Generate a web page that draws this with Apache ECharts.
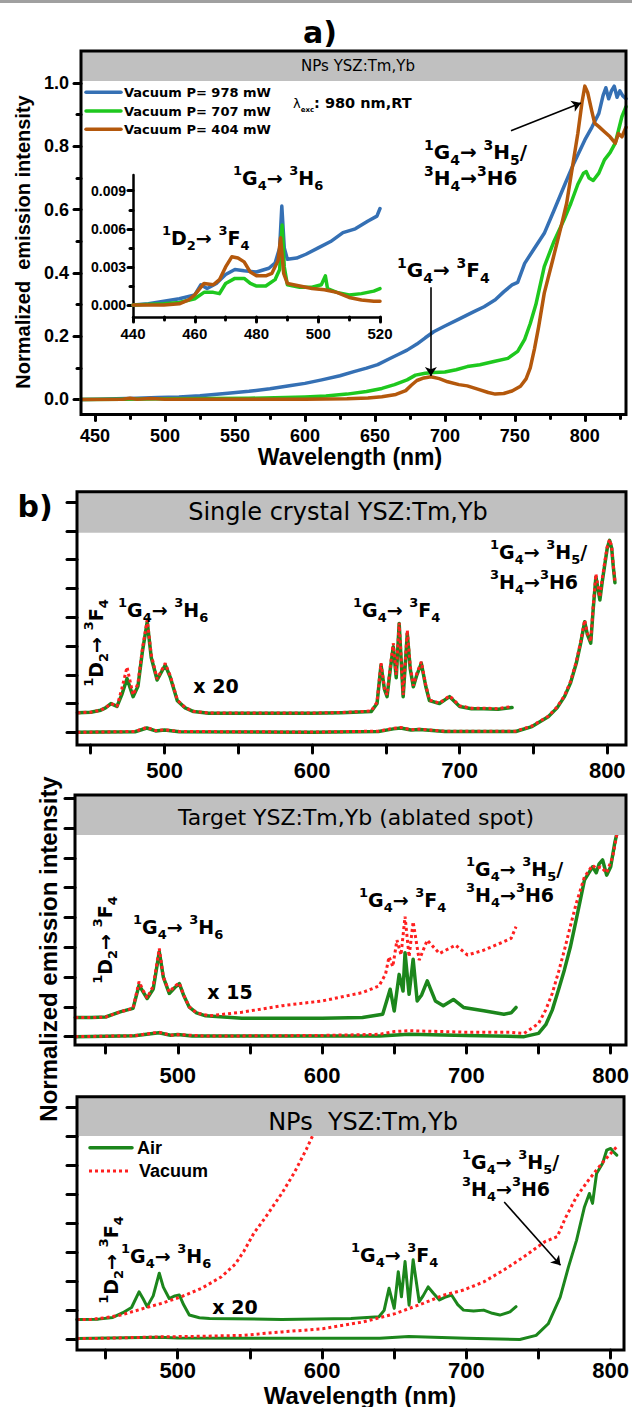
<!DOCTYPE html>
<html>
<head>
<meta charset="utf-8">
<script src="https://cdn.jsdelivr.net/npm/echarts@6/dist/echarts.min.js"></script>
<style>
html,body{margin:0;padding:0;background:#fff;}
#chart{width:632px;height:1407px;}
</style>
</head>
<body>
<div id="chart"></div>
<script>
// ---------------- data ----------------
// Panel a: NPs YSZ:Tm,Yb in vacuum, three pump powers (normalized emission)
const aWavelengthTicks = [450, 500, 550, 600, 650, 700, 750, 800];
const aWavelengthMinor = [475, 525, 575, 625, 675, 725, 775, 825];
const aIntensityTicks = [0, 0.2, 0.4, 0.6, 0.8, 1.0];
const aIntensityMinor = [0.1, 0.3, 0.5, 0.7, 0.9];

const vac978 = [[440,0.0],[452,0.001],[465,0.002],[480,0.004],[495,0.006],[510,0.008],[525,0.012],[545,0.02],[560,0.026],[575,0.034],[590,0.044],[600,0.051],[612,0.062],[625,0.075],[635,0.088],[644,0.099],[652,0.11],[660,0.128],[667,0.143],[673,0.156],[680,0.175],[686,0.195],[692,0.214],[700,0.232],[710,0.254],[720,0.276],[728,0.293],[736,0.315],[742,0.34],[748,0.362],[752,0.37],[757,0.43],[764,0.478],[771,0.525],[778,0.598],[785,0.672],[792,0.745],[800,0.82],[805,0.86],[810,0.904],[813,0.96],[815,0.985],[817,0.95],[819,0.975],[821,0.99],[823,0.955],[825,0.975],[827,0.96],[829.4,0.95]];
const vac707 = [[440,0.0],[470,0.001],[500,0.002],[530,0.003],[560,0.004],[586,0.006],[600,0.008],[615,0.011],[630,0.017],[644,0.025],[655,0.035],[664,0.047],[673,0.062],[679,0.077],[686,0.083],[692,0.085],[700,0.087],[708,0.094],[716,0.104],[725,0.11],[735,0.12],[745,0.13],[752,0.152],[757,0.19],[761,0.24],[765,0.3],[771,0.42],[778,0.5],[785,0.567],[790,0.62],[795,0.68],[799,0.715],[801,0.72],[803,0.7],[806,0.692],[810,0.715],[814,0.757],[818,0.78],[821.7,0.81],[824,0.85],[826.5,0.894],[829.4,0.925]];
const vac404 = [[440,0.0],[470,0.001],[475,0.004],[480,0.001],[490,0.003],[500,0.001],[540,0.001],[600,0.001],[630,0.002],[645,0.005],[655,0.009],[665,0.016],[672,0.028],[676,0.045],[680,0.06],[685,0.068],[690,0.072],[696,0.066],[702,0.056],[710,0.047],[716,0.043],[724,0.032],[731,0.022],[736,0.017],[742,0.019],[748,0.027],[754,0.042],[758,0.065],[761,0.1],[764,0.16],[767,0.23],[771,0.336],[777,0.44],[783,0.546],[787,0.62],[790,0.704],[795,0.841],[798,0.94],[800,0.99],[802,0.97],[805,0.91],[807,0.873],[810,0.862],[814,0.846],[818,0.83],[821.7,0.81],[824,0.84],[826.5,0.83],[829.4,0.86]];

// Inset of panel a: 440-520 nm detail
const insetTicks = [440, 460, 480, 500, 520];
const insetMinor = [450, 470, 490, 510];
const insetYTicks = [0, 0.003, 0.006, 0.009];
const insetYMinor = [0.0015, 0.0045, 0.0075];
const in978 = [[440,0.0],[445,0.0001],[450,0.0003],[455,0.0005],[460,0.0008],[462,0.0016],[464,0.0013],[467,0.0017],[470,0.0024],[473,0.0028],[476,0.0027],[480,0.0026],[484,0.0029],[486,0.0033],[487.5,0.0045],[488.2,0.0078],[489,0.0045],[490,0.0036],[493,0.0037],[496,0.004],[500,0.0045],[504,0.005],[508,0.0057],[512,0.006],[516,0.0066],[519,0.007],[520,0.0076]];
const in707 = [[440,0.0],[450,0.0001],[455,0.0002],[460,0.0005],[463,0.001],[466,0.001],[468,0.0009],[470,0.0017],[473,0.0021],[476,0.0021],[478,0.0017],[480,0.0015],[483,0.0015],[486,0.002],[487.5,0.0028],[488.3,0.0063],[489,0.003],[490,0.0016],[494,0.0014],[498,0.0014],[501,0.0016],[502.3,0.0023],[503,0.0013],[506,0.001],[510,0.0008],[514,0.0009],[518,0.0011],[520,0.0013]];
const in404 = [[440,0.0],[450,0.0],[455,0.0001],[458,0.0004],[460,0.0008],[463,0.0017],[466,0.0016],[468,0.002],[470,0.003],[472,0.0038],[474,0.0037],[476,0.0034],[478,0.0026],[480,0.0023],[483,0.0023],[485,0.0025],[487,0.0035],[487.8,0.0053],[488.8,0.0025],[490,0.0017],[494,0.0015],[498,0.0013],[502,0.0012],[506,0.001],[510,0.0006],[514,0.0004],[518,0.0003],[520,0.0003]];

// Panel b: air (solid) vs vacuum (dotted); y in tick units
const bTicks = [450, 500, 550, 600, 650, 700, 750, 800];
const bLabels = [500, 600, 700, 800];
const bYTicks = [0, 1, 2, 3, 4, 5, 6, 7, 8];

// b1: single crystal (x20 trace and unscaled trace)
const b1Air20 = [[441,0.68],[450,0.7],[456.8,0.77],[460,0.85],[463.7,1.0],[467.8,0.9],[471,1.3],[474.6,1.87],[478.7,1.24],[482,1.6],[485,2.8],[488.3,3.84],[491,2.6],[495,1.82],[500.5,2.34],[504,1.9],[508.7,1.1],[514,0.85],[519.7,0.72],[530,0.66],[560,0.66],[600,0.66],[620,0.68],[640,0.72],[644,1.0],[646.7,2.34],[649,1.5],[650.8,1.24],[653,2.2],[655,2.97],[657,1.9],[659,3.78],[661.7,1.24],[664.5,3.43],[666.5,2.2],[668.6,1.58],[671,2.0],[674,2.4],[677,1.6],[679.5,1.1],[686.3,1.0],[693.2,1.24],[700,0.9],[708,0.82],[716.4,0.82],[726,0.8],[735.5,0.86]];
const b1Vac20 = [[441,0.68],[450,0.7],[456.8,0.77],[460,0.85],[463.7,1.0],[467.8,0.9],[471,1.5],[474.6,2.27],[478.7,1.3],[482,1.7],[485,2.9],[488.3,3.9],[491,2.7],[495,1.85],[500.5,2.4],[504,1.95],[508.7,1.12],[514,0.86],[519.7,0.73],[530,0.67],[560,0.67],[600,0.67],[620,0.69],[640,0.74],[644,1.05],[646.7,2.4],[649,1.55],[650.8,1.3],[653,2.3],[655,3.1],[657,2.0],[659,3.8],[661.7,1.3],[664.5,3.55],[666.5,2.3],[668.6,1.62],[671,2.05],[674,2.45],[677,1.65],[679.5,1.12],[686.3,1.02],[693.2,1.27],[700,0.92],[708,0.84],[716.4,0.84],[726,0.82],[735.5,0.9]];
const b1Air = [[441,0],[480,0.02],[488,0.15],[494,0.05],[500,0.08],[510,0.02],[600,0],[645,0.03],[655,0.12],[660,0.15],[667,0.08],[673,0.1],[690,0.03],[738,0.03],[749,0.2],[760,0.54],[766,0.85],[771,1.24],[775,1.7],[779,2.4],[782,3.1],[784.7,3.84],[786.5,3.4],[788.8,3.1],[790.5,4.3],[792.3,5.4],[794,4.9],[795,4.6],[796.5,5.2],[798.4,5.86],[800,6.4],[801.6,6.67],[803,6.4],[804,5.8],[805.2,5.2]];
const b1Vac = [[441,0],[480,0.03],[488,0.17],[494,0.06],[500,0.09],[510,0.03],[600,0.01],[645,0.04],[655,0.14],[660,0.17],[667,0.09],[673,0.11],[690,0.04],[738,0.04],[749,0.22],[760,0.56],[766,0.88],[771,1.27],[775,1.75],[779,2.45],[782,3.15],[784.7,3.9],[786.5,3.45],[788.8,3.15],[790.5,4.4],[792.3,5.5],[794,5.0],[795,4.7],[796.5,5.3],[798.4,5.95],[800,6.45],[801.6,6.7],[803,6.45],[804,5.85],[805.2,5.25]];

// b2: target, ablated spot (x15 trace and unscaled trace)
const b2Air15 = [[429,0.64],[440,0.64],[450,0.66],[460.6,0.84],[469,0.95],[473.2,1.73],[476,1.5],[478.8,1.28],[483,1.6],[487.2,2.85],[490,2.0],[494.1,1.45],[498,1.65],[501.1,1.78],[504,1.4],[508,0.99],[513,0.8],[519.3,0.7],[544.4,0.62],[600,0.62],[628,0.64],[642,0.75],[647.2,1.59],[650,0.86],[653.4,2.09],[656.1,1.53],[657.5,2.82],[660.3,1.42],[663.1,2.6],[665.9,1.2],[669,1.4],[672.9,1.87],[678.5,1.2],[684,1.04],[691,1.25],[698,0.98],[712,0.87],[726,0.75],[731,0.8],[734.4,0.98]];
const b2Vac15 = [[429,0.64],[440,0.64],[450,0.66],[460.6,0.84],[469,0.95],[473.2,1.85],[476,1.55],[478.8,1.3],[483,1.7],[487.2,2.96],[490,2.0],[494.1,1.5],[498,1.7],[501.1,1.8],[504,1.4],[508,1.0],[513,0.8],[522,0.7],[544.4,0.82],[572.3,1.04],[600.3,1.2],[628,1.48],[639.4,1.7],[644,2.1],[646.4,2.68],[649,2.35],[651.9,3.24],[654.7,2.74],[657.5,4.03],[660.3,2.68],[663.1,3.86],[667.3,2.57],[672.9,3.24],[681.3,2.79],[692.5,3.07],[700.8,2.74],[712,2.9],[726,3.19],[731,3.3],[734.4,3.69]];
const b2Air = [[429,0],[470,0.03],[487,0.13],[495,0.05],[500,0.07],[510,0.02],[640,0.02],[660,0.08],[700,0.04],[740,0],[750,0.11],[755,0.4],[759.5,0.89],[764,1.6],[767.9,2.24],[772,3.0],[776,3.9],[779,4.6],[781.8,5.25],[787.4,5.7],[790,5.5],[792,5.8],[794.4,5.93],[797.2,5.42],[800,5.7],[802.8,6.5],[804.2,6.8]];
const b2Vac = [[429,0],[470,0.03],[487,0.15],[495,0.05],[500,0.07],[520,0.02],[600,0.04],[640,0.08],[650,0.17],[660,0.2],[700,0.15],[730,0.15],[740,0.11],[750,0.44],[755,0.9],[759.5,1.45],[764,2.2],[767.9,2.9],[772,3.7],[776,4.45],[781.8,5.36],[787.4,5.75],[790,5.65],[793,5.7],[797.2,5.5],[801.4,6.04],[804.2,6.77]];

// b3: nanoparticles (x20 trace and unscaled trace)
const b3Air20 = [[430,0.69],[445,0.7],[455,0.76],[462,0.92],[468,1.1],[473.2,1.64],[476,1.4],[478.8,1.13],[483,1.5],[487.2,2.28],[490,1.8],[494.1,1.41],[498,1.5],[501.1,1.53],[504,1.2],[508,0.84],[515,0.75],[522,0.72],[572,0.69],[620,0.72],[639.4,0.78],[643,1.0],[646.4,1.76],[650,1.07],[652.8,2.33],[655,1.47],[657.5,2.68],[660.3,1.18],[663.1,2.74],[667.3,1.3],[670,1.5],[673.5,1.81],[677,1.6],[681.3,1.36],[685,1.45],[689.7,1.53],[694,1.2],[698,1.01],[705,0.98],[712,1.01],[718,0.9],[723.2,0.84],[730.2,0.95],[734.4,1.13]];
const b3Vac20 = [[430,0.69],[439.7,0.69],[450,0.75],[460.6,0.84],[475,1.05],[488.5,1.24],[502.5,1.47],[516.5,1.76],[530.4,2.16],[540,2.6],[546,3.05],[552.8,3.66],[561.2,4.23],[572.3,5.04],[580.7,5.73],[589,6.53],[593.3,6.99]];
const b3Air = [[430,0.03],[487,0.08],[500,0.05],[640,0.04],[660,0.1],[700,0.04],[737,0.0],[748.3,0.14],[756.7,0.54],[765,1.46],[770.7,2.49],[776.3,3.41],[781.8,4.56],[785.2,5.02],[787.4,4.68],[790.2,5.71],[794.4,6.06],[797.2,6.51],[800,6.57],[802,6.45],[804.2,6.34]];
const b3Vac = [[430,0.03],[439.7,0.03],[488.5,0.09],[516.5,0.11],[544.4,0.14],[572.3,0.26],[600.3,0.37],[628.2,0.6],[650.6,0.89],[670,1.24],[684,1.52],[698,1.7],[712,1.98],[726,2.39],[740,2.85],[754.6,3.37],[763,3.54],[768.5,4.17],[776.3,4.91],[784.6,5.48],[790.2,5.83],[795.8,6.17],[800,6.4],[804.2,6.63]];

// ---------------- layout & styles ----------------
const L = {
  a:  {x: 81, y: 51,    w: 545, h: 363.5, head: 30},
  ai: {x: 133, y: 175,  w: 247, h: 142},
  b1: {x: 77, y: 491.7, w: 549, h: 253.3, head: 41},
  b2: {x: 75, y: 795,   w: 551, h: 250,   head: 40},
  b3: {x: 77, y: 1096.7,w: 547, h: 253.4, head: 39.3}
};
const C = {
  blue: '#3570b4', lime: '#1ec81e', brown: '#b4580c',
  green: '#1c861c', red: '#ff2020', head: '#c0c0c0'
};
const SANS = 'Liberation Sans';
const WIDE = 'DejaVu Sans';

function grid(r) {
  return {left: r.x, top: r.y, width: r.w, height: r.h, show: false,
          containLabel: false, outerBoundsMode: 'none'};
}
function axis(side, gi, min, max, ticks, len, labels, labelOpt) {
  return {
    type: 'value', gridIndex: gi, min: min, max: max, position: side, offset: 0,
    axisLine: {show: false, onZero: false},
    splitLine: {show: false},
    axisTick: {show: true, customValues: ticks, length: len,
               lineStyle: {color: '#000', width: 3, cap: 'round'}},
    axisLabel: labels ? Object.assign({show: true, customValues: labels, color: '#000',
               fontWeight: 'bold', fontFamily: SANS, hideOverlap: false}, labelOpt)
               : {show: false}
  };
}
const solidAxisLine = {show: true, onZero: false, lineStyle: {color: '#000', width: 2.5}};

const xAxes = [
  axis('bottom', 0, 440, 829.4, aWavelengthTicks, 6, aWavelengthTicks, {fontSize: 18, margin: 12}),
  axis('bottom', 0, 440, 829.4, aWavelengthMinor, 4, null),
  Object.assign(axis('bottom', 1, 440, 520, insetTicks, 5, insetTicks, {fontSize: 15, margin: 9}),
    {axisLine: solidAxisLine}),
  axis('bottom', 1, 440, 520, insetMinor, 3, null),
  axis('bottom', 2, 440.7, 812.7, bTicks, 8, bLabels, {fontSize: 22, margin: 14}),
  axis('bottom', 3, 428.8, 810.6, bTicks, 8, bLabels, {fontSize: 22, margin: 19}),
  axis('bottom', 4, 430.2, 809.2, bTicks, 8, bLabels, {fontSize: 22, margin: 9})
];
const yAxes = [
  axis('left', 0, -0.0474, 1.101, aIntensityTicks, 7, aIntensityTicks,
       {fontSize: 18, margin: 12, formatter: v => v.toFixed(1)}),
  axis('left', 0, -0.0474, 1.101, aIntensityMinor, 4, null),
  Object.assign(axis('left', 1, -0.00094, 0.01024, insetYTicks, 5, insetYTicks,
       {fontSize: 14, margin: 7, formatter: v => v.toFixed(3)}),
    {axisLine: solidAxisLine}),
  axis('left', 1, -0.00094, 0.01024, insetYMinor, 3, null),
  axis('left', 2, -0.44, 8.36, bYTicks, 10, null),
  axis('left', 3, -0.28, 8.11, bYTicks, 10, null),
  axis('left', 4, -0.365, 8.35, bYTicks, 10, null)
];

function line(data, xi, yi, color, width, extra) {
  return Object.assign({
    type: 'line', data: data, xAxisIndex: xi, yAxisIndex: yi,
    showSymbol: false, symbol: 'none', silent: true, z: 3,
    lineStyle: {color: color, width: width, cap: 'round', join: 'round'}
  }, extra || {});
}
function dotted(data, xi, yi) {
  return line(data, xi, yi, C.red, 3, {z: 4,
    lineStyle: {color: C.red, width: 3, type: [3, 3], cap: 'butt'}});
}
// annotation arrows, given as [from, to] in axis units
function arrows(pairs) {
  return {
    silent: true, symbol: ['none', 'arrow'], symbolSize: 9, animation: false,
    label: {show: false}, lineStyle: {color: '#000', width: 1.6, type: 'solid'},
    data: pairs.map(p => [{coord: p[0]}, {coord: p[1]}])
  };
}
const aArrows = [[[747.2, 0.849], [797.2, 0.937]], [[690, 0.355], [690, 0.074]]];
const b3Arrows = [[[726.2, 4.73], [765.2, 2.55]]];

const series = [
  line(vac978, 0, 0, C.blue, 3.5),
  line(vac707, 0, 0, C.lime, 3.5),
  line(vac404, 0, 0, C.brown, 3.5, {markLine: arrows(aArrows)}),
  line(in978, 2, 2, C.blue, 3.5),
  line(in707, 2, 2, C.lime, 3.5),
  line(in404, 2, 2, C.brown, 3.5),
  line(b1Air20, 4, 4, C.green, 3.5),
  line(b1Air, 4, 4, C.green, 3.5),
  dotted(b1Vac20, 4, 4),
  dotted(b1Vac, 4, 4),
  line(b2Air15, 5, 5, C.green, 3.5),
  line(b2Air, 5, 5, C.green, 3.5),
  dotted(b2Vac15, 5, 5),
  dotted(b2Vac, 5, 5),
  line(b3Air20, 6, 6, C.green, 3),
  line(b3Air, 6, 6, C.green, 3, {markLine: arrows(b3Arrows)}),
  dotted(b3Vac20, 6, 6),
  dotted(b3Vac, 6, 6)
];

// ---------------- text helpers ----------------
// "^x" -> superscript x, "_x" -> subscript x
function toRich(src) {
  let out = '', i = 0;
  while (i < src.length) {
    const c = src[i];
    if (c === '^' || c === '_') {
      out += '{' + (c === '^' ? 's' : 'b') + '|' + src[i + 1] + '}';
      i += 2;
    } else {
      let j = i;
      while (j < src.length && src[j] !== '^' && src[j] !== '_') j++;
      out += '{m|' + src.slice(i, j) + '}';
      i = j;
    }
  }
  return out;
}
function richStyle(f, fs) {
  const base = {fontWeight: 'bold', fontFamily: WIDE, fill: '#000'};
  return {
    m: Object.assign({fontSize: f, lineHeight: Math.round(f * 1.45), verticalAlign: 'middle'}, base),
    s: Object.assign({fontSize: fs, lineHeight: fs, verticalAlign: 'top'}, base),
    b: Object.assign({fontSize: fs, lineHeight: fs, verticalAlign: 'bottom'}, base)
  };
}
function term(src, x, y, f, fs, opt) {
  opt = opt || {};
  return {
    type: 'text', x: x, y: y, z: 30, rotation: opt.rot || 0, silent: true,
    style: {text: toRich(src), rich: richStyle(f, fs),
            align: opt.align || 'left', verticalAlign: 'middle'}
  };
}
function label(text, x, y, font, opt) {
  opt = opt || {};
  return {
    type: 'text', x: x, y: y, z: 30, rotation: opt.rot || 0, silent: true,
    style: {text: text, font: font, fill: '#000',
            align: opt.align || 'center', verticalAlign: 'middle'}
  };
}
function frame(r) {
  return {type: 'rect', z: 20, silent: true, shape: {x: r.x, y: r.y, width: r.w, height: r.h},
          style: {fill: 'none', stroke: '#000', lineWidth: 3}};
}
function header(r) {
  return {type: 'rect', z: 10, silent: true, shape: {x: r.x, y: r.y, width: r.w, height: r.head},
          style: {fill: C.head}};
}
function seg(x1, y1, x2, y2, color, w, dash) {
  return {type: 'line', z: 30, silent: true, shape: {x1: x1, y1: y1, x2: x2, y2: y2},
          style: {stroke: color, lineWidth: w, lineDash: dash || null, lineCap: dash ? 'butt' : 'round'}};
}

const G4H6 = '^1G_4→ ^3H_6';
const D2F4 = '^1D_2→ ^3F_4';
const G4F4 = '^1G_4→ ^3F_4';
const G4H5 = '^1G_4→ ^3H_5/';
const H4H6 = '^3H_4→^3H6';

const graphics = [
  {type: 'rect', z: 5, silent: true, shape: {x: 0, y: 0, width: 632, height: 3}, style: {fill: '#a0a0a0'}},
  // panel a
  header(L.a), frame(L.a),
  label('a)', 320, 32, 'bold 30px "DejaVu Sans"'),
  label('NPs YSZ:Tm,Yb', 358, 66, '15px "DejaVu Sans"'),
  label('Normalized  emission intensity', 23, 242, 'bold 20px "Liberation Sans"', {rot: Math.PI / 2}),
  label('Wavelength (nm)', 350, 457, 'bold 23px "Liberation Sans"'),
  seg(86, 92.3, 121, 92.3, C.blue, 3.5),
  seg(86, 111, 121, 111, C.lime, 3.5),
  seg(86, 129.3, 121, 129.3, C.brown, 3.5),
  label('Vacuum P= 978 mW', 124, 92.3, 'bold 13px "DejaVu Sans"', {align: 'left'}),
  label('Vacuum P= 707 mW', 124, 111, 'bold 13px "DejaVu Sans"', {align: 'left'}),
  label('Vacuum P= 404 mW', 124, 129.3, 'bold 13px "DejaVu Sans"', {align: 'left'}),
  {type: 'text', x: 293, y: 103, z: 30, silent: true, style: {
    text: '{l|λ}{e|exc}{m|: 980 nm,RT}', align: 'left', verticalAlign: 'middle',
    rich: {
      l: {fontSize: 13, fontFamily: WIDE, fill: '#000', lineHeight: 20, verticalAlign: 'middle'},
      e: {fontSize: 7, fontWeight: 'bold', fontFamily: WIDE, fill: '#000', lineHeight: 7, verticalAlign: 'bottom'},
      m: {fontSize: 14.5, fontWeight: 'bold', fontFamily: WIDE, fill: '#000', lineHeight: 20, verticalAlign: 'middle'}
    }}},
  term(G4H5, 424, 152, 20, 14),
  term(H4H6, 424, 178, 20, 14),
  term(G4F4, 397, 270, 20, 14),
  term(G4H6, 233, 178, 19, 13),
  term(D2F4, 162, 238, 19, 13),
  // panel b, common labels
  label('b)', 35, 506, 'bold 30px "DejaVu Sans"'),
  label('Normalized emission intensity', 48, 949, 'bold 24px "Liberation Sans"', {rot: Math.PI / 2}),
  label('Wavelength (nm)', 360, 1395, 'bold 24px "Liberation Sans"'),
  // b1
  header(L.b1), frame(L.b1),
  label('Single crystal YSZ:Tm,Yb', 338, 512, '24px "DejaVu Sans"'),
  term(D2F4, 96, 643, 19, 13, {rot: Math.PI / 2, align: 'center'}),
  term(G4H6, 118, 610, 19, 13),
  label('x 20', 216, 686, 'bold 19px "DejaVu Sans"'),
  term(G4F4, 353, 610, 19, 13),
  term(G4H5, 490, 552, 19, 13),
  term(H4H6, 490, 582, 19, 13),
  // b2
  header(L.b2), frame(L.b2),
  label('Target YSZ:Tm,Yb (ablated spot)', 356, 817, '22px "DejaVu Sans"'),
  term(D2F4, 105, 940, 19, 13, {rot: Math.PI / 2, align: 'center'}),
  term(G4H6, 133, 927, 19, 13),
  label('x 15', 230, 992, 'bold 19px "DejaVu Sans"'),
  term(G4F4, 359, 900, 19, 13),
  term(G4H5, 466, 869, 19, 13),
  term(H4H6, 466, 895, 19, 13),
  // b3
  header(L.b3), frame(L.b3),
  label('NPs  YSZ:Tm,Yb', 363, 1122, '24px "DejaVu Sans"'),
  seg(90, 1147.7, 132, 1147.7, C.green, 3.5),
  seg(89, 1171, 129, 1171, C.red, 3, [3, 3]),
  label('Air', 137, 1147.7, 'bold 18px "Liberation Sans"', {align: 'left'}),
  label('Vacuum', 139, 1171, 'bold 18px "Liberation Sans"', {align: 'left'}),
  term(D2F4, 111, 1260, 19, 13, {rot: Math.PI / 2, align: 'center'}),
  term(G4H6, 121, 1256, 19, 13),
  label('x 20', 235, 1307, 'bold 19px "DejaVu Sans"'),
  term(G4F4, 351, 1255, 19, 13),
  term(G4H5, 462, 1162, 19, 13),
  term(H4H6, 462, 1189, 19, 13)
];

const chart = echarts.init(document.getElementById('chart'), null,
  {renderer: 'svg', width: 632, height: 1407});
chart.setOption({
  animation: false,
  backgroundColor: '#fff',
  grid: [grid(L.a), grid(L.ai), grid(L.b1), grid(L.b2), grid(L.b3)],
  xAxis: xAxes,
  yAxis: yAxes,
  series: series,
  graphic: {elements: graphics}
});
</script>
</body>
</html>
